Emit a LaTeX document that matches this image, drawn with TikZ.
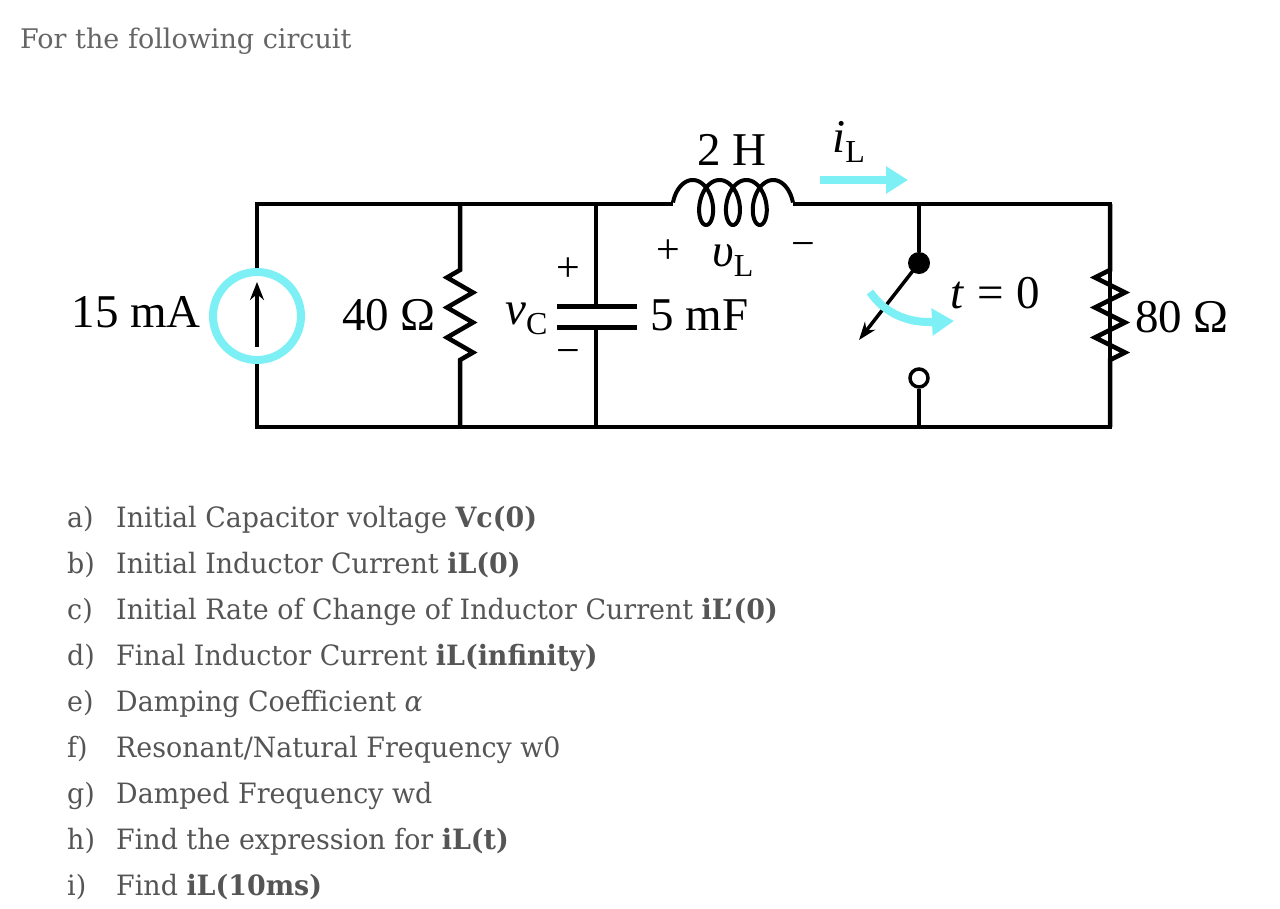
\documentclass[tikz,border=0pt]{standalone}
\usepackage{fontspec}
\setmainfont{Liberation Serif}
\newfontfamily\txtfont[FakeStretch=0.96]{DejaVu Serif}
\newfontfamily\headfont{DejaVu Serif}
\usetikzlibrary{arrows.meta}
\definecolor{cy}{RGB}{125,240,246}
\definecolor{txtgray}{RGB}{85,85,85}
\definecolor{headgray}{RGB}{102,102,102}
\newcommand\subl[1]{\raisebox{-0.22em}{\fontsize{32}{32}\selectfont #1}}
\begin{document}
\begin{tikzpicture}[x=1pt,y=-1pt,
  wire/.style={line width=4.5pt},
  clabel/.style={font=\fontsize{47}{50}\selectfont, inner sep=0pt},
  sign/.style={font=\fontsize{42}{44}\selectfont, inner sep=0pt},
  litem/.style={font=\txtfont\fontsize{28}{32}\selectfont, text=txtgray, anchor=base west, inner sep=0pt},
  cyarrow/.style={line width=8pt, draw=cy, -{Triangle[length=22pt,width=26pt]}}]
\useasboundingbox[fill=white] (0,0) rectangle (1280,908);

% heading
\node[font=\headfont\fontsize{27}{30}\selectfont, text=headgray, anchor=base west, inner sep=0pt] (head) at (20,48) {For the following circuit};

% coordinates
\coordinate (TL) at (257,204);
\coordinate (BL) at (257,427);
\coordinate (TR40) at (460,204);
\coordinate (BR40) at (460,427);
\coordinate (TC) at (596,204);
\coordinate (BC) at (596,427);
\coordinate (L1) at (673,204);
\coordinate (L2) at (793,204);
\coordinate (TS) at (919,204);
\coordinate (BS) at (919,427);
\coordinate (TR) at (1110,204);
\coordinate (BR) at (1110,427);

% source
\node[circle, draw=cy, line width=8pt, minimum size=88pt, inner sep=0pt] (src) at (257,316) {};
\draw[wire] (src.north) -- (TL) -- (L1);
\draw[wire] (src.south) -- (BL) -- (BR) -- (TR) -- (L2);
\coordinate (arT) at (257,282);
\coordinate (arB) at (257,347);
\draw[line width=3.5pt, -{Stealth[length=18pt,width=14pt]}] (arB) -- (arT);
\node[clabel, anchor=base east] (l15) at (201,327) {15 mA};

% 40 ohm resistor
\draw[wire, line join=miter] (TR40) -- (460,270) -- (447,277.5) -- (473,292.5) -- (447,307.5) -- (473,322.5) -- (447,337.5) -- (473,352.5) -- (460,360) -- (BR40);
\node[clabel, anchor=base east] (l40) at (436,330) {40 Ω};

% capacitor
\coordinate (P1) at (596,306);
\coordinate (P2) at (596,327);
\draw[wire] (TC) -- (P1);
\draw[wire] (P2) -- (BC);
\draw[line width=5pt] (557,306) -- (637,306);
\draw[line width=5pt] (557,327) -- (637,327);
\node[sign] (cp) at (568,270) {+};
\node[sign] (cm) at (568,357) {−};
\node[clabel, anchor=base west] (vc) at (505,324) {\textit{v}\subl{C}};
\node[clabel, anchor=base west] (l5) at (650,330) {5 mF};

% inductor
\draw[line width=4pt, line join=round] plot[domain=90:1350, samples=300, variable=\t]
  ({686 + 0.074526*(\t-90) - 13*sin(\t)}, {202.5 + 22.5*cos(\t)});
\node[clabel, anchor=base] (l2h) at (732,165) {2 H};
\node[clabel, anchor=base west] (il) at (832,152) {\textit{i}\subl{L}};
\coordinate (ia1) at (820,180);
\coordinate (ia2) at (908,180);
\draw[cyarrow] (ia1) -- (ia2);
\node[sign] (lp) at (668,252) {+};
\node[clabel, anchor=base west] (vl) at (712,266) {\textit{υ}\subl{L}};
\node[sign] (lm) at (803,250) {−};

% switch
\node[circle, fill=black, minimum size=22pt, inner sep=0pt] (dot) at (919,263) {};
\node[circle, draw=black, fill=white, line width=3.5pt, minimum size=18pt, inner sep=0pt] (term) at (919,378) {};
\draw[wire] (TS) -- (dot);
\draw[wire] (term.south) -- (BS);
\coordinate (blade) at (859,340);
\draw[line width=3.5pt, -{Stealth[length=18pt,width=13pt]}] (dot.center) -- (blade);
\coordinate (sa1) at (870,292);
\coordinate (sa2) at (954,321);
\draw[cyarrow] (sa1) .. controls (886,315) and (910,323) .. (sa2);
\node[clabel, anchor=base west] (t0) at (950,308) {\textit{t}\;=\;0};

% 80 ohm resistor
\draw[wire, line join=miter] (TR) -- (1110,270) -- (1095,277.5) -- (1125,292.5) -- (1095,307.5) -- (1125,322.5) -- (1095,337.5) -- (1125,352.5) -- (1110,360) -- (BR);
\node[clabel, anchor=base west] (l80) at (1135,332) {80 Ω};

% question list
\foreach \lab/\txt/\yy [count=\k] in {
  a)/{Initial Capacitor voltage \textbf{Vc(0)}}/527,
  b)/{Initial Inductor Current \textbf{iL(0)}}/573,
  c)/{Initial Rate of Change of Inductor Current \textbf{iL’(0)}}/619,
  d)/{Final Inductor Current \textbf{iL(infinity)}}/665,
  e)/{Damping Coefficient \textit{α}}/711,
  f)/{Resonant/Natural Frequency w0}/757,
  g)/{Damped Frequency wd}/803,
  h)/{Find the expression for \textbf{iL(t)}}/849,
  i)/{Find \textbf{iL(10ms)}}/895}{
  \node[litem] (q\k) at (67,\yy) {\lab};
  \node[litem] (t\k) at (116,\yy) {\txt};
}
\end{tikzpicture}
\end{document}
